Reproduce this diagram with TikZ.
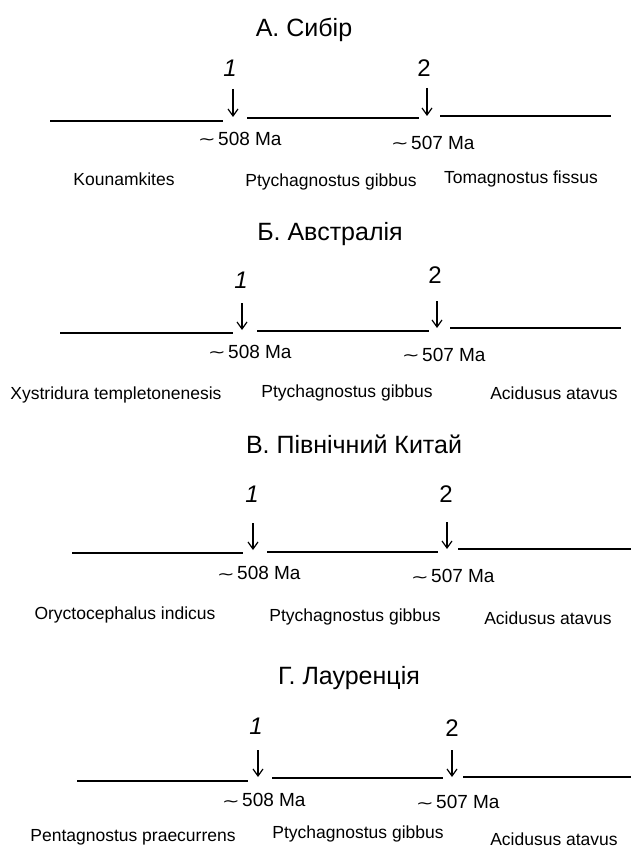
\documentclass[tikz,border=0pt]{standalone}
\usepackage{fontspec}
\setmainfont{Liberation Sans}
\newfontfamily\symfont{DejaVu Sans}
\usetikzlibrary{arrows.meta}
\begin{document}
\begin{tikzpicture}[x=1pt,y=-1pt,
 ttl/.style={font=\fontsize{25}{29}\selectfont, inner sep=0pt, anchor=center},
 num/.style={font=\fontsize{24}{28}\selectfont\itshape, inner sep=0pt},
 numup/.style={font=\fontsize{24}{28}\selectfont, inner sep=0pt},
 age/.style={font=\fontsize{19}{23}\selectfont, inner sep=0pt, anchor=west},
 til/.style={font=\symfont\fontsize{15}{18}\selectfont, inner sep=0pt, anchor=east, xscale=1.4},
 sp/.style={font=\fontsize{17.5}{20}\selectfont, inner sep=0pt, anchor=center},
 seg/.style={line width=1.6pt},
 arr/.style={line width=1.2pt, -{Straight Barb[length=7pt,width=10pt,line width=1.2pt]}}]
\useasboundingbox (0,0) rectangle (631,848);
% ---------- Panel A ----------
\node[ttl] (tA) at (304,30) {А. Сибір};
\node[num] (nA1) at (230,68) {1};
\node[numup] (nA2) at (424,68) {2};
\coordinate (aA1s) at (233,89); \coordinate (aA1e) at (233,117);
\coordinate (aA2s) at (427,88); \coordinate (aA2e) at (427,116);
\draw[arr] (aA1s) -- (aA1e);
\draw[arr] (aA2s) -- (aA2e);
\coordinate (lA1a) at (50,121); \coordinate (lA1b) at (223,121);
\coordinate (lA2a) at (247,118); \coordinate (lA2b) at (419,118);
\coordinate (lA3a) at (440,116); \coordinate (lA3b) at (611,116);
\draw[seg] (lA1a) -- (lA1b);
\draw[seg] (lA2a) -- (lA2b);
\draw[seg] (lA3a) -- (lA3b);
\node[age] (mA1) at (218,139) {508 Ma};
\node[til] (wA1) at ([xshift=-2pt,yshift=-3pt]mA1.west) {∼};
\node[age] (mA2) at (411,143) {507 Ma};
\node[til] (wA2) at ([xshift=-2pt,yshift=-3pt]mA2.west) {∼};
\node[sp] (sA1) at (124,179) {Kounamkites};
\node[sp] (sA2) at (331,182) {Ptychagnostus gibbus};
\node[sp] (sA3) at (521,179) {Tomagnostus fissus};
% ---------- Panel B ----------
\node[ttl] (tB) at (330,234) {Б. Австралія};
\node[num] (nB1) at (241,280) {1};
\node[numup] (nB2) at (435,275) {2};
\coordinate (aB1s) at (242,303); \coordinate (aB1e) at (242,330);
\coordinate (aB2s) at (437,301); \coordinate (aB2e) at (437,328);
\draw[arr] (aB1s) -- (aB1e);
\draw[arr] (aB2s) -- (aB2e);
\coordinate (lB1a) at (60,333); \coordinate (lB1b) at (233,333);
\coordinate (lB2a) at (257,331); \coordinate (lB2b) at (429,331);
\coordinate (lB3a) at (450,328); \coordinate (lB3b) at (621,328);
\draw[seg] (lB1a) -- (lB1b);
\draw[seg] (lB2a) -- (lB2b);
\draw[seg] (lB3a) -- (lB3b);
\node[age] (mB1) at (228,352) {508 Ma};
\node[til] (wB1) at ([xshift=-2pt,yshift=-3pt]mB1.west) {∼};
\node[age] (mB2) at (422,355) {507 Ma};
\node[til] (wB2) at ([xshift=-2pt,yshift=-3pt]mB2.west) {∼};
\node[sp] (sB1) at (116,395) {Xystridura templetonenesis};
\node[sp] (sB2) at (347,393) {Ptychagnostus gibbus};
\node[sp] (sB3) at (554,393) {Acidusus atavus};
% ---------- Panel C ----------
\node[ttl] (tC) at (354,444) {В. Північний Китай};
\node[num] (nC1) at (252,494) {1};
\node[numup] (nC2) at (446,494) {2};
\coordinate (aC1s) at (253,523); \coordinate (aC1e) at (253,550);
\coordinate (aC2s) at (447,522); \coordinate (aC2e) at (447,549);
\draw[arr] (aC1s) -- (aC1e);
\draw[arr] (aC2s) -- (aC2e);
\coordinate (lC1a) at (72,553); \coordinate (lC1b) at (243,553);
\coordinate (lC2a) at (267,552); \coordinate (lC2b) at (438,552);
\coordinate (lC3a) at (458,549); \coordinate (lC3b) at (631,549);
\draw[seg] (lC1a) -- (lC1b);
\draw[seg] (lC2a) -- (lC2b);
\draw[seg] (lC3a) -- (lC3b);
\node[age] (mC1) at (237,573) {508 Ma};
\node[til] (wC1) at ([xshift=-2pt,yshift=-3pt]mC1.west) {∼};
\node[age] (mC2) at (431,576) {507 Ma};
\node[til] (wC2) at ([xshift=-2pt,yshift=-3pt]mC2.west) {∼};
\node[sp] (sC1) at (125,615) {Oryctocephalus indicus};
\node[sp] (sC2) at (355,617) {Ptychagnostus gibbus};
\node[sp] (sC3) at (548,618) {Acidusus atavus};
% ---------- Panel D ----------
\node[ttl] (tD) at (349,678) {Г. Лауренція};
\node[num] (nD1) at (256,726) {1};
\node[numup] (nD2) at (452,728) {2};
\coordinate (aD1s) at (258,750); \coordinate (aD1e) at (258,777);
\coordinate (aD2s) at (452,750); \coordinate (aD2e) at (452,777);
\draw[arr] (aD1s) -- (aD1e);
\draw[arr] (aD2s) -- (aD2e);
\coordinate (lD1a) at (77,781); \coordinate (lD1b) at (248,781);
\coordinate (lD2a) at (272,778); \coordinate (lD2b) at (443,778);
\coordinate (lD3a) at (463,777); \coordinate (lD3b) at (631,777);
\draw[seg] (lD1a) -- (lD1b);
\draw[seg] (lD2a) -- (lD2b);
\draw[seg] (lD3a) -- (lD3b);
\node[age] (mD1) at (242,800) {508 Ma};
\node[til] (wD1) at ([xshift=-2pt,yshift=-3pt]mD1.west) {∼};
\node[age] (mD2) at (436,802) {507 Ma};
\node[til] (wD2) at ([xshift=-2pt,yshift=-3pt]mD2.west) {∼};
\node[sp] (sD1) at (133,837) {Pentagnostus praecurrens};
\node[sp] (sD2) at (358,834) {Ptychagnostus gibbus};
\node[sp] (sD3) at (554,839) {Acidusus atavus};
\end{tikzpicture}
\end{document}
